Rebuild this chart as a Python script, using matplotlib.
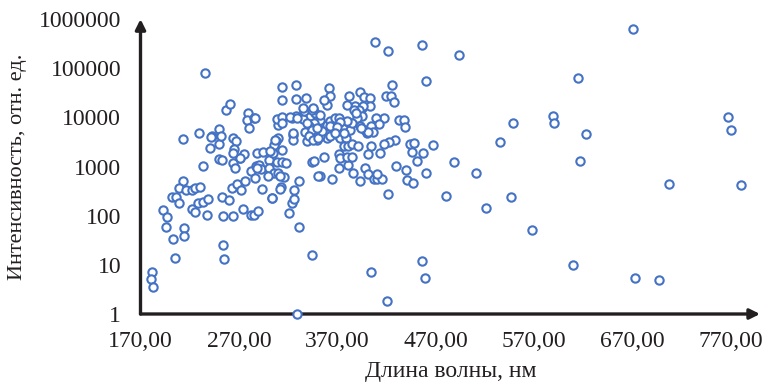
import matplotlib.pyplot as plt
from matplotlib.ticker import FixedLocator, FuncFormatter

plt.rcParams["font.family"] = ["Liberation Serif", "DejaVu Serif"]

# wavelength, nm
wavelength = [
    181.8, 180.4, 182.3,
    193.1, 196.6, 196.2, 203.4, 205.5, 214.3, 214.3,
    201.8, 205.9, 208.9,
    213.7, 209.6, 216.4, 221.9, 225.5, 230.8,
    222.4, 225.7, 228.8, 233.9, 239.1, 238.0,
    213.7, 229.1, 233.2, 235.3,
    241.0, 243.1, 249.7, 249.7, 251.7, 242.1,
    250.2, 253.3,
    256.9, 261.0,
    252.8, 260.0, 254.3, 253.8, 255.3,
    262.8, 267.9, 272.3, 276.7, 264.5, 274.7, 282.2, 285.6, 289.7,
    263.9, 267.3, 265.2, 270.7, 275.4, 263.9, 266.5, 279.8, 278.8, 285.7, 280.8, 271.3, 263.6,
    282.2, 287.5, 290.9, 286.9, 292.4, 293.4, 288.2, 294.3, 300.4, 304.5,
    308.6, 313.7, 318.2, 301.1, 305.9, 310.3, 316.1, 313.7, 303.9, 312.7,
    304.2, 312.0,
    310.1, 308.0, 305.9, 310.1, 308.7, 313.8, 325.0, 325.0, 328.4, 323.6,
    313.7, 313.7, 328.4, 328.4, 338.5,
    330.7, 325.7, 321.5, 324.3, 326.3, 330.7, 344.3, 329.6,
    286.6, 307.0, 301.8, 300.1, 312.0, 288.4, 313.8, 322.2,
    337.5, 345.0, 342.7, 347.7, 352.8, 346.0, 340.9, 337.5, 342.7, 349.5,
    354.6, 359.7, 363.1, 364.9, 368.3, 371.7, 359.7, 352.8, 349.5, 339.2,
    335.7, 336.5, 335.0, 344.3, 345.9, 352.7, 339.2, 344.3, 340.9, 345.9,
    351.0, 354.4, 362.9, 372.4, 378.9, 376.5, 380.9, 384.9, 390.7, 404.4,
    368.0, 371.4, 362.9, 381.5, 383.3, 388.5, 395.1,
    361.3, 363.0, 359.6, 356.1,
    382.3, 379.9, 393.4, 396.8, 403.5, 403.5, 396.1, 392.6, 395.1, 387.4, 390.1,
    388.7, 384.9, 393.5, 398.6, 400.4, 379.9, 373.1, 369.7, 376.5, 368.0,
    418.0, 409.1, 412.2, 404.4, 406.4, 401.0, 394.2,
    408.1, 421.3, 455.9, 494.1, 460.7, 425.4,
    420.0, 425.1, 427.4,
    433.3, 438.4, 439.1,
    428.4, 422.4, 417.2, 444.5, 447.8, 446.5, 456.9, 467.5, 451.3, 430.2,
    439.6, 441.1, 447.2, 460.4, 488.9, 510.9, 481.1, 421.8, 413.9,
    404.4, 455.9, 459.7, 420.7,
    344.3, 346.7, 352.1, 364.8, 356.1, 386.0, 393.5, 371.4, 373.1, 381.5,
    379.9, 385.3, 401.0, 398.8, 401.0, 407.0, 410.5, 415.5, 410.5,
    371.7, 351.0, 329.0, 325.0, 349.5,
    671.2, 614.8, 548.3, 589.5, 590.5, 623.1, 535.6, 617.2, 707.6, 767.2,
    770.9, 781.1, 546.4, 521.1, 568.6, 609.9, 672.8, 697.3,
]

# intensity, rel. units
intensity = [
    7.0, 5.1, 3.6,
    131, 96, 58, 33, 14, 55, 39.5,
    236, 244, 178,
    508, 366, 334, 334, 366, 380,
    139, 121, 178, 190, 215, 103,
    3660, 4840, 1020, 81000,
    2330, 4140, 2900, 5850, 4270, 4020,
    1440, 1350,
    13900, 19000,
    236, 207, 99, 25, 13.2,
    366, 433, 328, 497, 99, 134, 102, 102, 122,
    3840, 3380, 2300, 1510, 1820, 1190, 929, 12300, 8730, 9590, 6120, 1460, 1905,
    807, 1020, 1070, 593, 873, 343, 1905, 1960, 1350, 1905,
    1228, 1228, 1194, 946, 724, 748, 609, 2150, 229, 382,
    232, 343,
    3840, 3280, 2770, 7140, 9330, 10230, 4480, 3440, 10520, 9770,
    41600, 22960, 45600, 24050, 25200,
    506, 332, 116, 179, 222, 59, 15.7, 1,
    9770, 3550, 2050, 640, 640, 946, 7730, 10200,
    12700, 14800, 10500, 12300, 9000, 7730, 6600, 5000, 4480, 4840,
    5660, 7140, 8340, 6120, 5660, 4150, 3840, 4150, 3550, 3280,
    9330, 13300, 15600, 13900, 15600, 11400, 7730, 5660, 4270, 3550,
    3770, 5220, 4270, 3890, 3770, 2590, 2680, 2940, 2680, 2590,
    9770, 9770, 6600, 8110, 5480, 16800, 15600,
    39700, 26800, 17900, 23000,
    26800, 17900, 33400, 26000, 24400, 17300, 16800, 14400, 10900, 14400, 9600,
    12300, 7730, 6600, 5660, 4840, 8340, 8000, 6420, 4840, 4840,
    9600, 9590, 7480, 6820, 5150, 5150, 6210,
    345000, 226000, 295000, 188000, 55000, 45600,
    26800, 26800, 20900,
    8730, 8730, 6420,
    3440, 3130, 2940, 2940, 3040, 2020, 1905, 2770, 1310, 1020,
    846, 530, 469, 735, 1228, 735, 251, 275, 1845,
    7.2, 11.9, 5.5, 1.8,
    1228, 1270, 630, 548, 1550, 735, 506, 1760, 1510, 1100,
    1530, 1530, 1760, 946, 692, 548, 548, 548, 692,
    946, 640, 9770, 4840, 6120,
    641000, 64200, 7850, 10700, 7850, 4540, 3190, 1270, 448, 10400,
    5460, 414, 236, 143, 51, 9.9, 5.5, 4.9,
]

x_ticks = [170, 270, 370, 470, 570, 670, 770]
y_ticks = [1, 10, 100, 1000, 10000, 100000, 1000000]

TEXT = "#231f20"
BLUE = "#4472c4"

fig = plt.figure(figsize=(7.64, 3.82), dpi=100)
ax = fig.add_axes([0.1839, 0.178, 0.8109, 0.772])

ax.scatter(
    wavelength,
    intensity,
    s=36,
    facecolors="white",
    edgecolors=BLUE,
    linewidths=1.5,
    zorder=4,
    clip_on=False,
)

ax.set_yscale("log")
ax.set_xlim(170, 800)
ax.set_ylim(1, 1000000)

ax.xaxis.set_major_locator(FixedLocator(x_ticks))
ax.xaxis.set_major_formatter(FuncFormatter(lambda v, p: f"{v:.2f}".replace(".", ",")))
ax.yaxis.set_major_locator(FixedLocator(y_ticks))
ax.yaxis.set_major_formatter(FuncFormatter(lambda v, p: f"{int(round(v))}"))
ax.yaxis.set_minor_locator(FixedLocator([]))
ax.tick_params(axis="x", length=0, pad=12, labelsize=17, colors=TEXT)
ax.tick_params(axis="y", length=0, pad=14, labelsize=17, colors=TEXT)

for spine in ax.spines.values():
    spine.set_visible(False)

# axes drawn as arrows, like the original
arrow = dict(arrowstyle="-|>,head_length=0.6,head_width=0.3", color=TEXT,
             lw=2.4, shrinkA=0, shrinkB=0)
ax.annotate("", xy=(1, 0), xytext=(0, 0), xycoords="axes fraction", arrowprops=arrow, zorder=3)
ax.annotate("", xy=(0, 1), xytext=(0, 0), xycoords="axes fraction", arrowprops=arrow, zorder=3)

ax.set_xlabel("Длина волны, нм", fontsize=17, color=TEXT)
ax.set_ylabel("Интенсивность, отн. ед.", fontsize=16, color=TEXT)
ax.xaxis.set_label_coords(0.5, -0.16)
ax.yaxis.set_label_coords(-0.183, 0.5)

fig.savefig("out.png", dpi=100, facecolor="white")
